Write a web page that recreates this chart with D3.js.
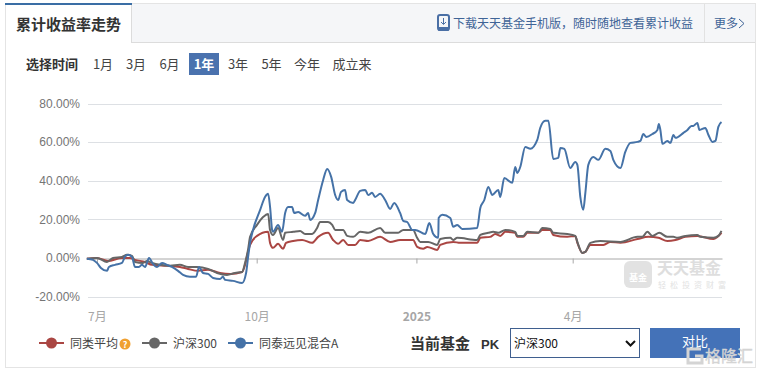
<!DOCTYPE html>
<html>
<head>
<meta charset="utf-8">
<script src="https://cdn.jsdelivr.net/npm/d3@7"></script>
<style>
  html, body { margin: 0; padding: 0; background: #fff; }
  svg { display: block; }
  text { font-family: "Noto Sans CJK SC", "Liberation Sans", sans-serif; }
  .num { font-family: "Liberation Sans", sans-serif; }
</style>
</head>
<body>
<svg id="chart" width="760" height="372"></svg>
<script>
// [days since 2024-07-01, cumulative return %]
const categoryAverage = [[-5.8,-0.4],[0,0],[6.3,-1.6],[14.4,0],[19,0],[21.9,-1],[27.7,-2.1],[31.7,-3.6],[40.4,-4.1],[47.8,-4.7],[52.5,-5.7],[58.2,-6.7],[64,-6.2],[70.9,-7.8],[76.7,-8.3],[83.6,-7.3],[85.3,-3.6],[87,3.1],[88.2,6.7],[92.2,11.4],[98.6,13.5],[99.7,7.8],[101.4,5.2],[104.3,7.3],[107.2,4.7],[108.9,7.8],[113,8.8],[118.2,9.3],[123.9,7.8],[127.4,10.9],[133.1,13],[136,9.3],[138.9,7.3],[141.8,9.3],[144.7,6.7],[148.7,6.7],[151.6,9.3],[156.2,8.8],[163.1,10.9],[168.9,8.3],[174.6,9.3],[182.1,9.3],[184.4,5.7],[187.9,4.7],[190.2,5.7],[196,4.1],[197.7,6.7],[205.2,8.3],[209.2,7.8],[219,7.8],[220.8,10.4],[226.5,10.9],[229.4,12.4],[232.3,11.4],[235.2,13.5],[240.9,13],[242.1,10.9],[245.5,10.9],[247.9,13],[254.2,13],[256.5,14.5],[261.1,14.5],[262.8,11.9],[270.9,10.9],[275.5,11.4],[276.7,7.8],[279.6,2.6],[281.3,3.1],[284.2,6.7],[291.7,6.7],[295.7,8.3],[301.5,7.8],[311.3,9.8],[317.6,10.9],[323.4,10.4],[328.5,8.8],[333.2,9.3],[338.9,10.9],[345.8,11.4],[355.1,9.8],[359.7,13]];
const csi300 = [[-5.8,-0.4],[0,0],[5.8,-2.1],[9.2,0],[14.4,0.5],[17.3,1.6],[20.2,1],[21.9,-2.1],[26.5,-2.6],[28.8,-1.6],[31.7,-2.6],[36.3,-3.6],[42.1,-4.1],[47.8,-3.6],[52.5,-4.7],[57.6,-4.7],[64,-5.7],[69.2,-7.8],[74.9,-8.8],[79.5,-7.8],[83.6,-7.3],[85.3,-2.6],[87,4.1],[88.2,10.9],[92.2,17.1],[95.7,21.2],[98.6,22.8],[99.7,14.5],[101.4,11.9],[104.3,15.5],[107.2,9.3],[108.4,13],[113,13.5],[117,14],[119.9,12.4],[123.9,12.4],[126.8,15.5],[128.5,18.6],[133.1,18.6],[135.5,17.1],[137.2,14.5],[141.8,14.5],[144.1,11.4],[147.6,10.9],[151.6,13.5],[156.2,13],[163.1,15.5],[166,13],[173.5,13],[176.4,14.5],[182.1,14.5],[184.4,10.4],[186.2,8.3],[190.8,8.3],[196,6.7],[197.7,9.8],[203.5,10.4],[205.2,9.3],[207.5,10.4],[219,9.3],[220.8,11.9],[225.4,13],[228.3,13.5],[231.1,13],[235.2,14.5],[240.9,13.5],[242.1,11.4],[245.5,11.4],[247.9,13.5],[254.2,13],[256.5,15.5],[261.1,15],[262.8,13],[270.9,12.4],[275.5,11.4],[276.7,8.3],[279.6,2.6],[281.3,3.1],[284.2,7.8],[289.9,8.8],[301.5,8.3],[311.3,10.9],[314.1,10.9],[317,13.5],[319.9,11.4],[323.9,13],[328.5,10.9],[332,10.9],[334.3,10.4],[338.9,11.4],[345.8,11.9],[347.6,10.9],[355.1,10.4],[357.9,11.4],[359.7,14]];
const fundA = [[-5.8,-0.4],[-2.3,-1],[0,-2.6],[2.3,-5.2],[5.8,-6.7],[6.9,-4.7],[10.4,-3.6],[14.4,-2.6],[16.1,0.5],[17.9,1.6],[20.2,0.5],[21.9,-4.7],[24.2,-4.7],[25.9,-3.6],[27.7,-4.7],[30,0],[32.3,-3.1],[34.6,-4.7],[37.5,-2.6],[40.4,-3.6],[43.2,-4.7],[46.7,-6.7],[49.6,-8.8],[53.6,-9.8],[57.1,-9.8],[58.8,-4.7],[61.1,-7.8],[64,-8.3],[66.9,-10.4],[70.9,-10.9],[72.6,-9.8],[73.8,-11.4],[78.4,-11.9],[83.6,-13],[85.9,-7.8],[87,0],[88.2,7.8],[89.9,14.5],[94,24.9],[96.8,31.6],[98.6,33.2],[99.7,26.4],[100.9,14.5],[101.4,13.5],[104.3,17.1],[106.6,13.5],[108.4,23.3],[110.1,26.4],[112.4,26.4],[113.6,23.3],[115.9,23.8],[119.9,21.8],[121.6,23.3],[122.8,19.7],[125.7,23.3],[127.4,30],[130.3,40.4],[132.6,46.1],[134.9,42],[137.2,32.6],[138.9,30],[140.6,34.2],[142.9,35.2],[144.1,30],[147.6,28.5],[148.7,30],[151.6,34.7],[154.5,35.2],[156.2,32.6],[158.5,33.7],[160.2,31.6],[163.1,33.2],[166,30],[168.9,25.4],[171.2,28.5],[174.6,23.3],[176.4,19.2],[178.7,18.6],[181.6,14.5],[183.3,14.5],[189.1,12.4],[191.4,18.1],[193.7,12.4],[196.6,10.4],[196.8,20.7],[198.9,22.3],[203.5,20.7],[205.2,16.1],[207.5,17.1],[210.4,15],[219,15.5],[220.8,25.9],[223.1,30],[225.4,36.8],[227.7,32.6],[231.1,35.2],[232.3,31.6],[234.6,41.4],[239.2,38.9],[240.9,47.1],[242.1,44],[243.8,47.1],[246.7,57.5],[249.6,56.5],[253.6,61.1],[255.3,67.3],[258.2,71],[260,71],[262.8,51.3],[265.7,51.8],[266.9,57],[269.2,56.5],[272.6,46.6],[275.5,49.7],[276.7,48.2],[278.4,31.6],[280.1,24.9],[281.3,33.7],[283,48.2],[285.9,52.3],[288.8,50.8],[292.8,56.5],[295.7,55.4],[297.4,50.8],[301.5,46.6],[304.3,54.9],[307.2,59.6],[311.3,60.1],[313,60.6],[314.7,64.2],[316.4,62.7],[319.9,64.2],[322.8,66.3],[323.6,69.4],[324.5,66.3],[325.7,59.1],[328.5,60.6],[330.3,59.6],[332,63.7],[333.2,62.2],[337.8,64.8],[340.1,66.3],[342.4,68.4],[343.5,68.4],[345.8,69.9],[347,66.3],[350.4,67.3],[352.2,63.7],[354.5,60.1],[356.2,60.6],[357.9,67.9],[359.7,70.4]];

const seriesNames = ["同类平均", "沪深300", "同泰远见混合A"];
const seriesColors = ["#aa4643", "#666666", "#4572a7"];
const yTicks = [-20, 0, 20, 40, 60, 80];
const xTickDays = [0, 92, 184, 274];
const xTickLabels = ["7月", "10月", "2025", "4月"];
const timeOptions = ["1月", "3月", "6月", "1年", "3年", "5年", "今年", "成立来"];

const svg = d3.select("#chart");
const baseDate = Date.UTC(2024, 6, 1);
const toDate = d => new Date(baseDate + d * 864e5);

const x = d3.scaleUtc().domain([toDate(-6.3), toDate(360)]).range([86, 722]);
const y = d3.scaleLinear().domain([-20, 80]).range([296.5, 103.5]);

// page frame and tab strip
svg.append("rect").attr("x", 5.5).attr("y", 3.5).attr("width", 750).attr("height", 364)
  .attr("fill", "#fff").attr("stroke", "#e4e4e4");
svg.append("rect").attr("x", 131).attr("y", 4).attr("width", 624).attr("height", 38).attr("fill", "#f5f6f8");
svg.append("line").attr("x1", 131).attr("x2", 755).attr("y1", 42.5).attr("y2", 42.5).attr("stroke", "#dcdcdc");
svg.append("line").attr("x1", 131.5).attr("x2", 131.5).attr("y1", 4).attr("y2", 43).attr("stroke", "#dcdcdc");
svg.append("line").attr("x1", 704.5).attr("x2", 704.5).attr("y1", 4).attr("y2", 42).attr("stroke", "#e2e2e2");
svg.append("rect").attr("x", 5).attr("y", 3).attr("width", 127).attr("height", 2).attr("fill", "#3a6ea5");
svg.append("text").attr("x", 16).attr("y", 30).attr("font-size", 15).attr("font-weight", 700).attr("fill", "#333").text("累计收益率走势");

// phone icon + download link
const phone = svg.append("g").attr("fill", "none");
phone.append("rect").attr("x", 438).attr("y", 15).attr("width", 11).attr("height", 15).attr("rx", 2)
  .attr("stroke", "#4a6fa5").attr("stroke-width", 2);
phone.append("rect").attr("x", 438).attr("y", 27).attr("width", 11).attr("height", 4).attr("rx", 1).attr("fill", "#4a6fa5");
phone.append("path").attr("d", "M443.5 18v6M441 22l2.5 2.5L446 22").attr("stroke", "#4a6fa5");
svg.append("text").attr("x", 453).attr("y", 28).attr("font-size", 12).attr("fill", "#3f6497")
  .text("下载天天基金手机版，随时随地查看累计收益");
svg.append("text").attr("x", 714).attr("y", 28).attr("font-size", 12).attr("fill", "#3f6497").text("更多");
svg.append("path").attr("d", "M739 19l5 4.5-5 4.5").attr("fill", "none").attr("stroke", "#3f6497");

// time range selector
svg.append("text").attr("x", 26).attr("y", 69).attr("font-size", 13).attr("font-weight", 700).attr("fill", "#333").text("选择时间");
const optionX = [103, 136, 169.5, 204, 238, 271.5, 307, 352];
svg.append("rect").attr("x", 189).attr("y", 53).attr("width", 30).attr("height", 22).attr("fill", "#4a72ae");
svg.selectAll("text.option").data(timeOptions).join("text").attr("class", "option")
  .attr("x", (d, i) => optionX[i]).attr("y", 69).attr("text-anchor", "middle").attr("font-size", 13)
  .attr("font-weight", d => d === "1年" ? 700 : 400)
  .attr("fill", d => d === "1年" ? "#fff" : "#444").text(d => d);

// watermark
const mark = svg.append("g");
mark.append("rect").attr("x", 624).attr("y", 261).attr("width", 28).attr("height", 27).attr("rx", 6).attr("fill", "#e2e2e2");
mark.append("text").attr("x", 638).attr("y", 281).attr("text-anchor", "middle").attr("font-size", 9).attr("font-weight", 700).attr("fill", "#fff").text("基金");
mark.append("text").attr("x", 657).attr("y", 274).attr("font-size", 16).attr("font-weight", 700).attr("fill", "#dedede").text("天天基金");
mark.append("text").attr("x", 658).attr("y", 288).attr("font-size", 8).attr("letter-spacing", 4).attr("fill", "#e2e2e2").text("轻松投资财富");

// grid
svg.append("g").selectAll("line").data(yTicks.filter(d => d !== 0)).join("line")
  .attr("x1", 88).attr("x2", 722)
  .attr("y1", d => Math.round(y(d)) + 0.5).attr("y2", d => Math.round(y(d)) + 0.5)
  .attr("stroke", "#dde0e4");

// axes
const yAxis = d3.axisLeft(y).tickValues(yTicks).tickSize(0).tickPadding(6).tickFormat(d => d.toFixed(2) + "%");
const yAxisG = svg.append("g").attr("class", "num").attr("transform", "translate(86,0)").call(yAxis);
yAxisG.select(".domain").remove();
yAxisG.selectAll("text").attr("class", "num").attr("font-size", 12).attr("fill", "#757575");

const xAxis = d3.axisBottom(x).tickValues(xTickDays.map(toDate)).tickSize(5).tickSizeOuter(0)
  .tickFormat((d, i) => xTickLabels[i]);
const xAxisG = svg.append("g").attr("transform", `translate(0,${Math.round(y(0)) + 0.5})`).call(xAxis);
xAxisG.select(".domain").attr("stroke", "#a8a8a8");
xAxisG.selectAll("line").attr("stroke", "#a8a8a8");
xAxisG.selectAll("text").attr("transform", "translate(0,46)").attr("font-size", 12).attr("fill", "#a6a6a6")
  .attr("font-weight", (d, i) => xTickLabels[i] === "2025" ? 700 : 400);

// series
const line = d3.line().x(d => x(toDate(d[0]))).y(d => y(d[1])).curve(d3.curveMonotoneX);
svg.append("g").selectAll("path").data([categoryAverage, csi300, fundA]).join("path")
  .attr("d", line).attr("fill", "none").attr("stroke", (d, i) => seriesColors[i])
  .attr("stroke-width", 2).attr("stroke-linejoin", "round");

// legend
const legendX = [39, 142, 228];
const legend = svg.append("g").selectAll("g").data(seriesNames).join("g")
  .attr("transform", (d, i) => `translate(${legendX[i]},343)`);
legend.append("line").attr("x2", 25).attr("stroke", (d, i) => seriesColors[i]).attr("stroke-width", 2);
legend.append("circle").attr("cx", 12.5).attr("r", 5.5).attr("fill", (d, i) => seriesColors[i]);
legend.append("text").attr("x", 31).attr("y", 4.5).attr("font-size", 12).attr("fill", "#444").text(d => d);
svg.append("circle").attr("cx", 125).attr("cy", 344).attr("r", 5.5).attr("fill", "#f0a030");
svg.append("text").attr("x", 125).attr("y", 348).attr("text-anchor", "middle").attr("font-size", 9).attr("font-weight", 700).attr("fill", "#fff").text("?");

// compare controls
svg.append("text").attr("x", 410).attr("y", 349).attr("font-size", 15).attr("font-weight", 700).attr("fill", "#333").text("当前基金");
svg.append("text").attr("class", "num").attr("x", 481).attr("y", 349).attr("font-size", 13).attr("font-weight", 700).attr("fill", "#333").text("PK");
svg.append("rect").attr("x", 510.5).attr("y", 328.5).attr("width", 129).attr("height", 29).attr("fill", "#fff").attr("stroke", "#3f5f8f");
svg.append("text").attr("x", 514).attr("y", 348).attr("font-size", 12).attr("fill", "#111").text("沪深300");
svg.append("path").attr("d", "M626 341l4.5 4.5 4.5-4.5").attr("fill", "none").attr("stroke", "#111").attr("stroke-width", 2);
svg.append("rect").attr("x", 650).attr("y", 328).attr("width", 90).attr("height", 30).attr("fill", "#4472b8");
svg.append("text").attr("x", 695).attr("y", 346).attr("text-anchor", "middle").attr("font-size", 13).attr("fill", "#fff").text("对比");

// site stamp over the button
const stamp = svg.append("g");
stamp.append("path").attr("d", "M701 349h-13v14h14v-7h-7").attr("fill", "none").attr("stroke", "#d4d4d4").attr("stroke-width", 3);
stamp.append("text").attr("x", 705).attr("y", 362).attr("font-size", 16).attr("fill", "#d4d4d4")
  .attr("stroke", "#d4d4d4").attr("stroke-width", 0.4).text("格隆汇");
</script>
</body>
</html>
